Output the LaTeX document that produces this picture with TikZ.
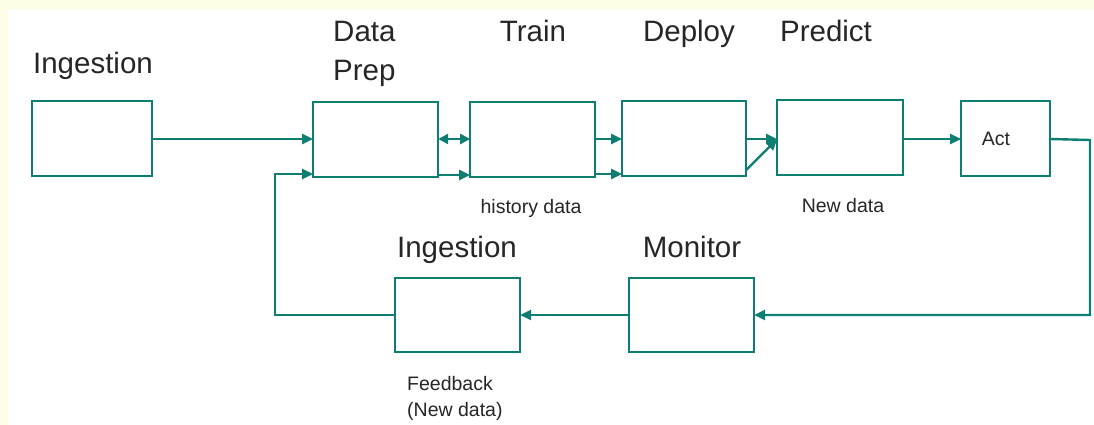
\documentclass[tikz,border=0pt]{standalone}
\usepackage{fontspec}
\setmainfont{Liberation Sans}
\usetikzlibrary{arrows.meta}
\definecolor{teal1}{HTML}{0E7D72}
\definecolor{bgyel}{HTML}{FDFDE6}
\tikzset{
  x=1pt, y=-1pt,
  stagebox/.style={draw=teal1, line width=2.4pt, fill=white, inner sep=0pt, outer sep=0pt, minimum width=125pt, minimum height=75pt, anchor=north west},
  conn/.style={draw=teal1, line width=2.4pt, -{Triangle[length=11pt,width=10pt]}},
  big/.style={font=\fontsize{29.5}{39}\selectfont, inner sep=0pt, text=black!85},
  small/.style={font=\fontsize{19.5}{26}\selectfont, inner sep=0pt, text=black!85},
}
\begin{document}
\begin{tikzpicture}
\fill[bgyel] (0,0) rectangle (1094,425);
\fill[white] (8,9) rectangle (1094,425);
\useasboundingbox (0,0) rectangle (1094,425);

% boxes
\node[stagebox, minimum width=120pt] (ing1) at (32.2,101.2) {};
\node[stagebox] (prep) at (313.2,102.2) {};
\node[stagebox] (train) at (470.2,102.2) {};
\node[stagebox, minimum width=124pt] (deploy) at (622.2,101.2) {};
\node[stagebox, minimum width=126pt] (predict) at (777.2,100.2) {};
\node[stagebox, minimum width=89pt] (act) at (961.2,101.2) {};
\node[stagebox, minimum height=74pt] (ing2) at (395.2,278.2) {};
\node[stagebox, minimum height=74pt] (monitor) at (629.2,278.2) {};

% labels
\node[big, anchor=base] (l1) at (93,74) {Ingestion};
\node[big, anchor=north west, align=left] (l2) at (333,21) {Data\\Prep};
\node[big, anchor=base] (l3) at (533,42) {Train};
\node[big, anchor=base] (l4) at (689,42) {Deploy};
\node[big, anchor=base] (l5) at (826,42) {Predict};
\node[big, anchor=base] (l6) at (457,257) {Ingestion};
\node[big, anchor=base] (l7) at (692,257) {Monitor};
\node[small, anchor=base] (t1) at (996,145) {Act};
\node[small, anchor=base] (t2) at (531,213) {history data};
\node[small, anchor=base] (t3) at (843,212) {New data};
\node[small, anchor=north west, align=left] (t4) at (407,376) {Feedback\\(New data)};

% connectors
\coordinate (r1) at (1090,140);
\coordinate (r2) at (1090,315);
\coordinate (lb) at (275,315);
\coordinate (lt) at (275,174);
\draw[conn] (ing1.east |- 0,139) -- (prep.west |- 0,139);
\draw[draw=teal1, line width=2.4pt, {Triangle[length=10pt,width=10pt]}-{Triangle[length=10pt,width=10pt]}] (prep.east |- 0,139) -- (train.west |- 0,139);
\draw[conn] (prep.east |- 0,175) -- (train.west |- 0,175);
\draw[conn] (train.east |- 0,139) -- (deploy.west |- 0,139);
\draw[conn] (train.east |- 0,174) -- (deploy.west |- 0,174);
\draw[conn] (deploy.east |- 0,139) -- (predict.west |- 0,139);
\draw[conn] (deploy.east |- 0,170) -- (predict.west |- 0,139);
\draw[conn] (predict.east |- 0,139) -- (act.west |- 0,139);
\draw[conn] (act.east |- 0,139) -- (r1) -- (r2) -- (r2 -| monitor.east);
\draw[conn] (monitor.west |- 0,315) -- (ing2.east |- 0,315);
\draw[conn] (ing2.west |- 0,315) -- (lb) -- (lt) -- (lt -| prep.west);
\end{tikzpicture}
\end{document}
